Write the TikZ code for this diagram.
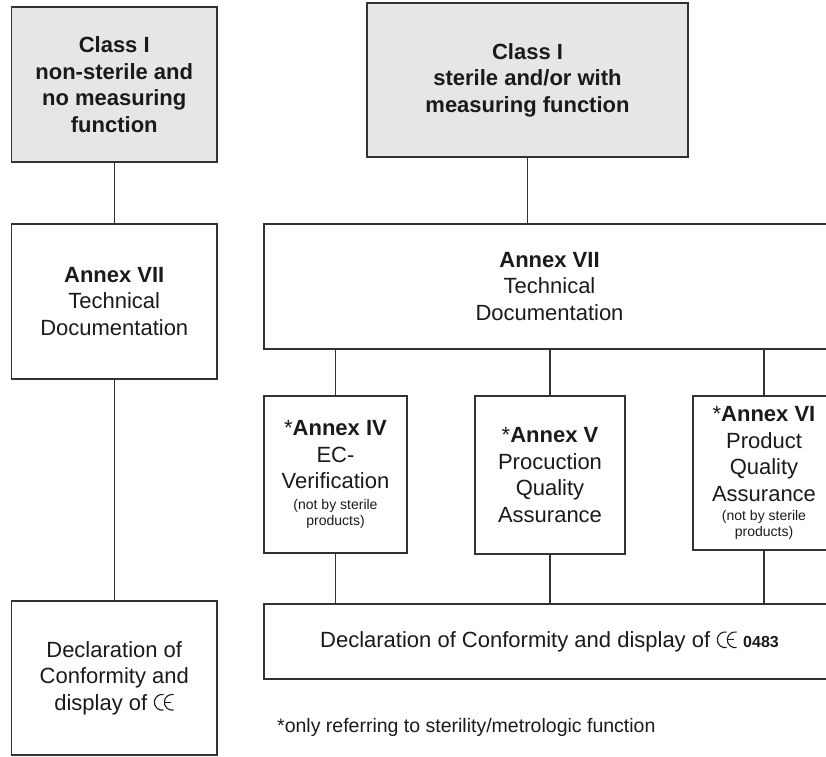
\documentclass[tikz,border=0pt]{standalone}
\usepackage{fontspec}
\setmainfont{Liberation Sans}
\definecolor{headfill}{HTML}{E6E6E6}
\definecolor{linec}{HTML}{333333}
\definecolor{textc}{HTML}{1A1A1A}
% type sizes (1pt = 1 unit of the drawing)
\newcommand{\txtsz}{\fontsize{22}{26.5}\selectfont}
\newcommand{\notesz}{\fontsize{14}{16}\selectfont}
\newcommand{\footsz}{\fontsize{19.5}{22}\selectfont}
% CE conformity mark, drawn as two circular arcs
\newcommand{\cemark}{\tikz[baseline=0pt,x=1pt,y=1pt]{%
  \draw[line width=1.1pt,draw=textc,line cap=butt]
    ([shift={(80:7.9)}]8,7.9) arc[start angle=80,end angle=280,radius=7.9];
  \draw[line width=1.1pt,draw=textc,line cap=butt]
    ([shift={(80:7.9)}]18,7.9) arc[start angle=80,end angle=280,radius=7.9];
  \draw[line width=1.1pt,draw=textc] (10.1,7.9) -- (16.6,7.9);}}
\begin{document}
\begin{tikzpicture}[x=1pt,y=-1pt,
  box/.style={draw=linec,line width=1.2pt,rectangle,inner sep=0pt,
    align=center,text=textc,font=\txtsz},
  headbox/.style={box,fill=headfill},
  wire/.style={draw=linec,line width=1.2pt}]
\useasboundingbox (0,0) rectangle (826,756);
\clip (0,0) rectangle (826,756);

% class boxes
\node[headbox,minimum width=205.5pt,minimum height=155pt] (c1) at (114.25,84.5)
  {\bfseries Class I\\\bfseries non-sterile and\\\bfseries no measuring\\\bfseries function};
\node[headbox,minimum width=321pt,minimum height=154pt] (c2) at (527.5,80)
  {\bfseries Class I\\\bfseries sterile and/or with\\\bfseries measuring function};

% technical documentation
\node[box,minimum width=205.5pt,minimum height=155pt] (l2) at (114.25,301.5)
  {\textbf{Annex VII}\\Technical\\Documentation};
\node[box,minimum width=571pt,minimum height=125pt] (r2) at (549.5,286.5)
  {\textbf{Annex VII}\\Technical\\Documentation};

% conformity assessment routes
\node[box,minimum width=143pt,minimum height=157pt] (a4) at (335.5,474.5)
  {*\textbf{Annex IV}\\EC-\\Verification\\[-6pt]\notesz (not by sterile\\[-10.5pt]\notesz products)};
\node[box,minimum width=150pt,minimum height=158pt] (a5) at (550,475)
  {*\textbf{Annex V}\\Procuction\\Quality\\Assurance};
\node[box,minimum width=142pt,minimum height=154pt] (a6) at (764,473)
  {*\textbf{Annex VI}\\Product\\Quality\\Assurance\\[-7pt]\notesz (not by sterile\\[-10.5pt]\notesz products)};

% declarations
\node[box,minimum width=205.5pt,minimum height=154pt] (l3) at (114.25,678)
  {Declaration of\\Conformity and\\display of \cemark};
\node[box,minimum width=571pt,minimum height=75pt] (r3) at (549.5,641.5)
  {Declaration of Conformity and display of \cemark\ {\fontsize{16}{18}\selectfont\bfseries 0483}};

\node[anchor=base west,inner sep=0pt,font=\footsz,text=textc] (fn) at (277,732)
  {*only referring to sterility/metrologic function};

% connectors
\draw[wire] (c1.south) -- (l2.north);
\draw[wire] (l2.south) -- (l3.north);
\draw[wire] (c2.south) -- (c2.south |- r2.north);
\draw[wire] (a4.north |- r2.south) -- (a4.north);
\draw[wire] (a5.north |- r2.south) -- (a5.north);
\draw[wire] (a6.north |- r2.south) coordinate (stub) -- (a6.north);
\draw[wire,line width=1.8pt] ([yshift=0.8pt]stub) -- ++(8.5,0);
\draw[wire] (a4.south) -- (a4.south |- r3.north);
\draw[wire] (a5.south) -- (a5.south |- r3.north);
\draw[wire] (a6.south) -- (a6.south |- r3.north);
\end{tikzpicture}
\end{document}
